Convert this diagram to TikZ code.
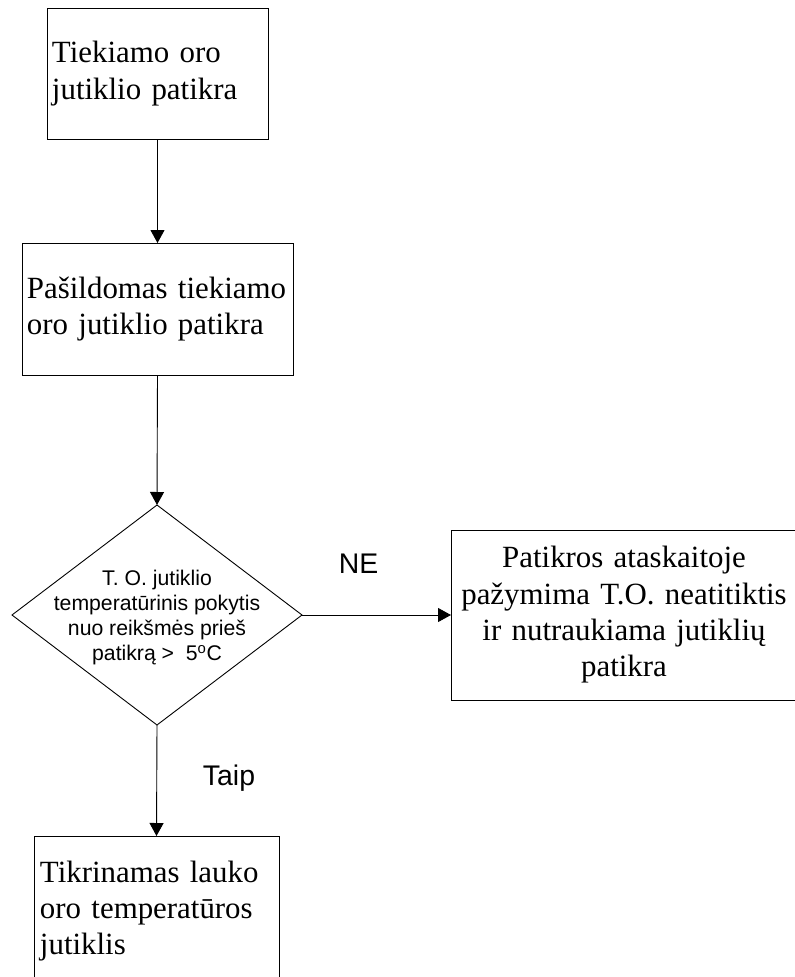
\documentclass[tikz,border=0pt]{standalone}
\usepackage{fontspec}
\setmainfont{Liberation Serif}
\newfontfamily\labelfont{Liberation Sans}
\usetikzlibrary{shapes.geometric,arrows.meta}

\begin{document}
\begin{tikzpicture}[x=1bp,y=-1bp,
  every node/.style={inner sep=0pt,outer sep=0pt},
  stepbox/.style={draw,line width=0.9bp,rectangle,
    font=\fontsize{31}{36.5}\selectfont},
  decision/.style={draw,line width=0.9bp,diamond,
    minimum width=290bp,minimum height=220bp},
  dtext/.style={align=center,font=\labelfont\fontsize{21.3}{25.3}\selectfont},
  branch/.style={font=\labelfont\fontsize{28.5}{30}\selectfont,anchor=base},
  flow/.style={line width=0.9bp,-{Triangle[length=13bp,width=14bp]}}]

  \useasboundingbox (0,0) rectangle (795,977);

  % process boxes
  \node[stepbox,minimum width=221bp,minimum height=131bp,
        text width=211bp,align=left] (b1) at (157.5,73.5)
        {Tiekiamo oro\\jutiklio patikra};
  \node[stepbox,minimum width=271bp,minimum height=132bp,
        text width=261bp,align=left] (b2) at (157.5,309)
        {Pašildomas tiekiamo\\oro jutiklio patikra};

  % decision
  \node[decision] (d) at (157,615) {};
  \node[dtext] (dt) at (157,617.5)
        {T. O. jutiklio\\temperatūrinis pokytis\\nuo reikšmės prieš\\patikrą >\ \ 5\textsuperscript{o}C};

  % outcome boxes
  \node[stepbox,minimum width=346bp,minimum height=170bp,
        text width=336bp,align=center] (b3) at (624,615)
        {Patikros ataskaitoje\\pažymima T.O. neatitiktis\\ir nutraukiama jutiklių\\patikra};
  \node[stepbox,minimum width=245bp,minimum height=150bp,
        text width=233bp,align=left] (b4) at (156.5,911)
        {Tikrinamas lauko\\oro temperatūros\\jutiklis};

  % branch labels
  \node[branch] (ne) at (358.7,573) {NE};
  \node[branch] (taip) at (229,785) {Taip};

  % connectors
  \draw[flow] (b1.south) -- (b2.north);
  \draw[flow] (b2.south) -- (d.north);
  \draw[flow] (d.east) -- (b3.west);
  \draw[flow] (d.south) -- (b4.north);
\end{tikzpicture}
\end{document}
